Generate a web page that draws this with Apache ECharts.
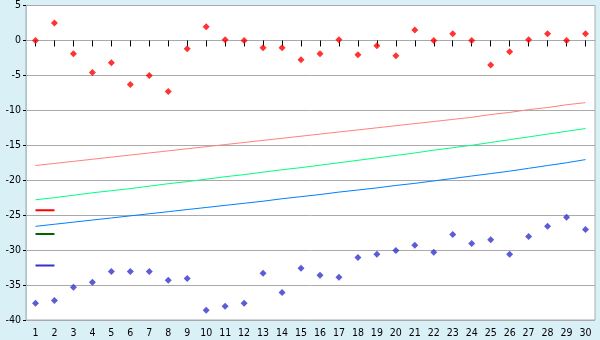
<!DOCTYPE html>
<html><head><meta charset="utf-8">
<script src="https://cdn.jsdelivr.net/npm/echarts@6/dist/echarts.min.js"></script>
<style>html,body{margin:0;padding:0;background:#d9f0f6;}#c{width:600px;height:340px;}</style>
</head><body><div id="c"></div>
<script>
const categories = ['1','2','3','4','5','6','7','8','9','10','11','12','13','14','15','16','17','18','19','20','21','22','23','24','25','26','27','28','29','30'];
const redPoints = [0, 2.5, -1.9, -4.6, -3.2, -6.3, -5.0, -7.3, -1.2, 1.95, 0.1, 0, -1.05, -1.05, -2.75, -1.9, 0.1, -2.05, -0.75, -2.2, 1.5, 0, 0.95, 0, -3.5, -1.6, 0.1, 0.95, 0, 0.95];
const bluePoints = [-37.6, -37.2, -35.3, -34.6, -33.05, -33.05, -33.05, -34.3, -34.05, -38.6, -38.05, -37.6, -33.3, -36.05, -32.6, -33.6, -33.9, -31.05, -30.6, -30.05, -29.3, -30.3, -27.75, -29.05, -28.5, -30.6, -28.05, -26.6, -25.3, -27.05];
const pinkLine = [-17.9, -17.6, -17.3, -17.0, -16.7, -16.4, -16.1, -15.8, -15.5, -15.2, -14.9, -14.6, -14.3, -14.0, -13.7, -13.4, -13.1, -12.8, -12.5, -12.2, -11.9, -11.6, -11.3, -11.0, -10.6, -10.3, -9.9, -9.6, -9.2, -8.9];
const greenLine = [-22.8, -22.5, -22.15, -21.8, -21.5, -21.2, -20.85, -20.5, -20.2, -19.85, -19.5, -19.2, -18.85, -18.5, -18.2, -17.85, -17.5, -17.15, -16.8, -16.45, -16.1, -15.7, -15.35, -15.0, -14.6, -14.2, -13.8, -13.4, -13.0, -12.6];
const blueLine = [-26.6, -26.3, -26.0, -25.7, -25.4, -25.1, -24.8, -24.5, -24.2, -23.9, -23.6, -23.3, -23.0, -22.65, -22.35, -22.05, -21.7, -21.4, -21.1, -20.75, -20.45, -20.1, -19.75, -19.4, -19.05, -18.7, -18.3, -17.9, -17.5, -17.05];
const redMark = [-24.3, -24.3];
const greenMark = [-27.7, -27.7];
const blueMark = [-32.2, -32.2];
const yMin = -40, yMax = 5, yStep = 5;

const chart = echarts.init(document.getElementById('c'), null, {renderer: 'canvas'});
const font = {fontFamily: 'DejaVu Sans Condensed', fontSize: 10.5, color: '#000'};
function line(data, color, width) {
  return {type: 'line', data: data, symbol: 'none', silent: true, animation: false,
    lineStyle: {color: color, width: width}, itemStyle: {color: color}};
}
function scatter(data, color) {
  return {type: 'scatter', data: data, symbol: 'diamond', symbolSize: 7, silent: true, animation: false,
    itemStyle: {color: color}};
}
chart.setOption({
  backgroundColor: '#d9f0f6',
  animation: false,
  grid: {left: 26, right: 5, top: 5, bottom: 20, show: true, backgroundColor: '#fff', borderColor: '#aaa', borderWidth: 1},
  xAxis: {type: 'category', data: categories, boundaryGap: true,
    axisLine: {show: true, lineStyle: {color: '#aaa'}},
    axisTick: {show: true, alignWithLabel: true, length: 6, lineStyle: {color: '#000'}},
    axisLabel: Object.assign({margin: 8, interval: 0}, font),
    splitLine: {show: false}},
  yAxis: {type: 'value', min: yMin, max: yMax, interval: yStep,
    axisLine: {show: true, lineStyle: {color: '#a8c6cf'}},
    axisTick: {show: true, length: 3, lineStyle: {color: '#000'}},
    axisLabel: Object.assign({margin: 5}, font),
    splitLine: {show: true, lineStyle: {color: '#aaa', width: 1}}},
  series: [
    line(pinkLine, '#ff8080', 1),
    line(greenLine, '#00ff80', 1),
    line(blueLine, '#0080ff', 1),
    line(redMark, '#ff0000', 2),
    line(greenMark, '#006600', 2),
    line(blueMark, '#3333cc', 2),
    scatter(redPoints, '#ff0000'),
    scatter(bluePoints, '#3333cc')
  ]
});
</script></body></html>
